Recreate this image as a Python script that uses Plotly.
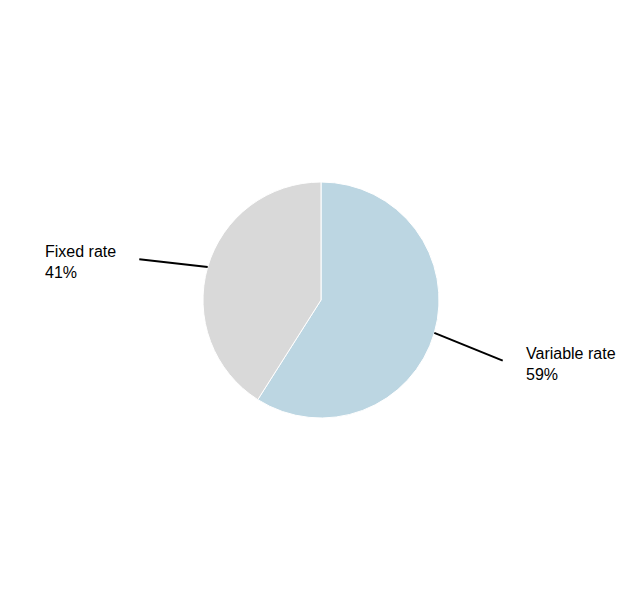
import math
import plotly.graph_objects as go

labels = ["Variable rate", "Fixed rate"]
shares = [59, 41]
colors = ["#BCD6E2", "#D9D9D9"]

W, H = 644, 600
# page body adds an 8px offset, so shift layout by that amount
cx, cy, r = 321 - 8, 300 - 8, 118  # pie centre / radius in px (y measured from top)

fig = go.Figure(go.Pie(
    labels=labels,
    values=shares,
    sort=False,
    direction="clockwise",
    rotation=0,
    textinfo="none",
    marker=dict(colors=colors, line=dict(color="white", width=1)),
    domain=dict(x=[(cx - r) / W, (cx + r) / W], y=[1 - (cy + r) / H, 1 - (cy - r) / H]),
    showlegend=False,
))

total = sum(shares)
acc = 0
shapes = []
annotations = []
for lab, v in zip(labels, shares):
    mid = (acc + v / 2) / total * 2 * math.pi
    acc += v
    dx, dy = math.sin(mid), -math.cos(mid)  # dy positive = downward
    side = 1 if dx > 0 else -1
    x0, y0 = cx + r * dx, cy + r * dy
    x1 = cx + side * 1.54 * r
    y1 = cy + 1.54 * r * dy + 10
    shapes.append(dict(type="line", xref="paper", yref="paper",
                       x0=x0 / W, y0=1 - y0 / H, x1=x1 / W, y1=1 - y1 / H,
                       line=dict(color="black", width=2)))
    annotations.append(dict(xref="paper", yref="paper",
                            x=(x1 + side * 21) / W, y=1 - (y1 + 3) / H,
                            xanchor="left" if side > 0 else "right", yanchor="middle",
                            align="left", showarrow=False,
                            text=f"{lab}<br>{round(v / total * 100)}%",
                            font=dict(family="Liberation Sans, Arial", size=16, color="black")))

fig.update_layout(
    width=W, height=H,
    margin=dict(l=0, r=0, t=0, b=0),
    paper_bgcolor="white",
    plot_bgcolor="white",
    shapes=shapes,
    annotations=annotations,
)

fig.write_html("out.html")
